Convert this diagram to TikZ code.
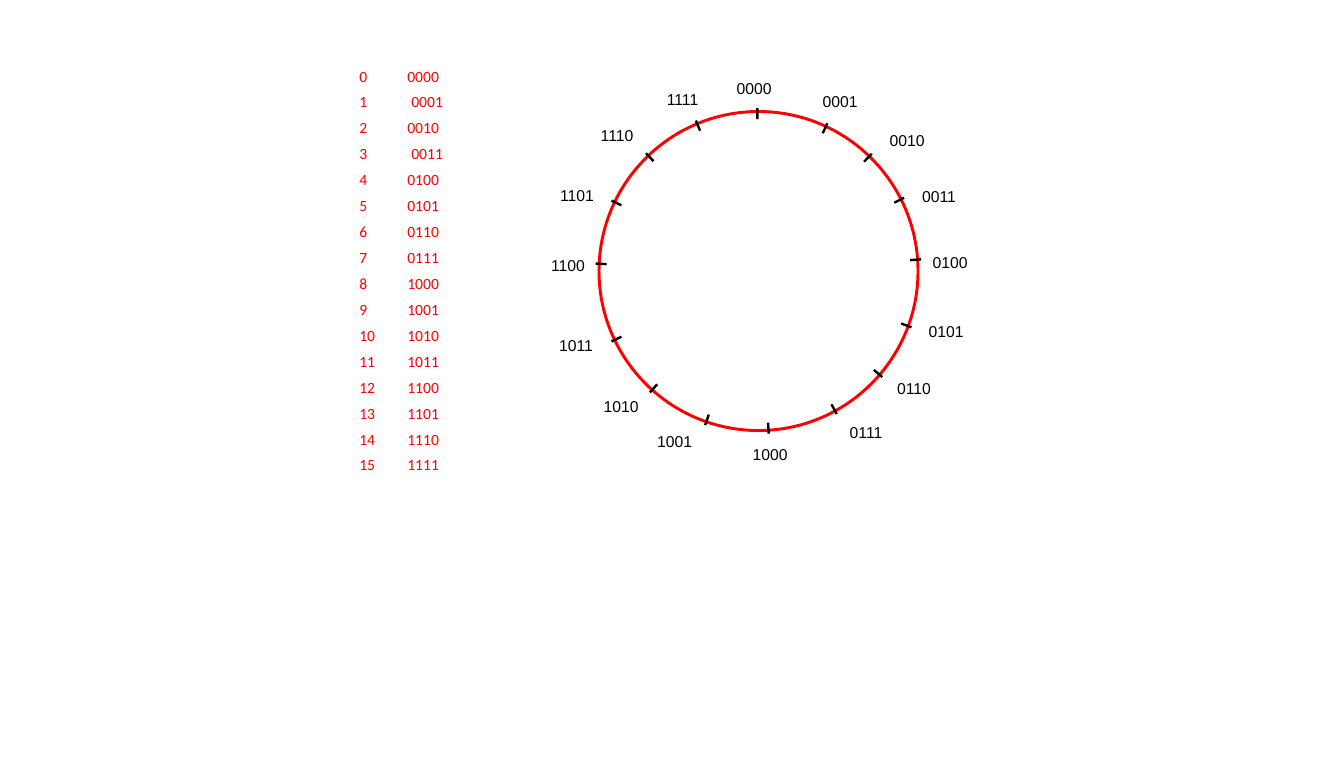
\documentclass[tikz,border=0pt]{standalone}
\usepackage{fontspec}
\setmainfont{Liberation Sans}
\newfontfamily\tablefont{Carlito}

\begin{document}
\begin{tikzpicture}[x=0.75pt, y=-0.75pt,
    ring/.style={red, line width=2.2pt},
    tickmark/.style={black, line width=1.8pt},
    codelabel/.style={inner sep=0pt, font=\fontsize{11.8}{14}\selectfont},
    tablecell/.style={red, anchor=west, inner sep=0pt, font=\tablefont\fontsize{11.7}{14}\selectfont}]
    \useasboundingbox (0,0) rectangle (1341,758);

    % Table
    \foreach \i/\b/\x in {0/0000/407, 1/0001/411, 2/0010/407, 3/0011/411, 4/0100/407, 5/0101/407, 6/0110/407, 7/0111/407,
        8/1000/407, 9/1001/407, 10/1010/407, 11/1011/407, 12/1100/407, 13/1101/407, 14/1110/407, 15/1111/407} {
        \node[tablecell] (num\i) at (359, 77+25.93*\i) {\i};
        \node[tablecell] (bin\i) at (\x, 77+25.93*\i) {\b};
    }

    % Ring
    \coordinate (c) at (758.5,271);
    \draw[ring] (c) circle[radius=159.5];
    \foreach \t/\b/\lx/\ly in {-90.4/0000/754/89, -65/0001/840/102.5, -46/0010/907/141, -26.7/0011/939/197,
        -4.1/0100/950/263, 20.2/0101/946/332, 40.6/0110/914/389, 61.3/0111/866/433,
        86.4/1000/770/455, 109.1/1001/674.5/442, 131.8/1010/621/407, 154.4/1011/576/346,
        182.6/1100/568/266, 205.6/1101/577/196, 226.3/1110/617/136, 247.4/1111/682.5/100.5} {
        \draw[tickmark] (c) ++(\t:163) coordinate (tick\b) -- ++(\t:-11);
        \node[codelabel] (code\b) at (\lx,\ly) {\b};
    }
\end{tikzpicture}
\end{document}
